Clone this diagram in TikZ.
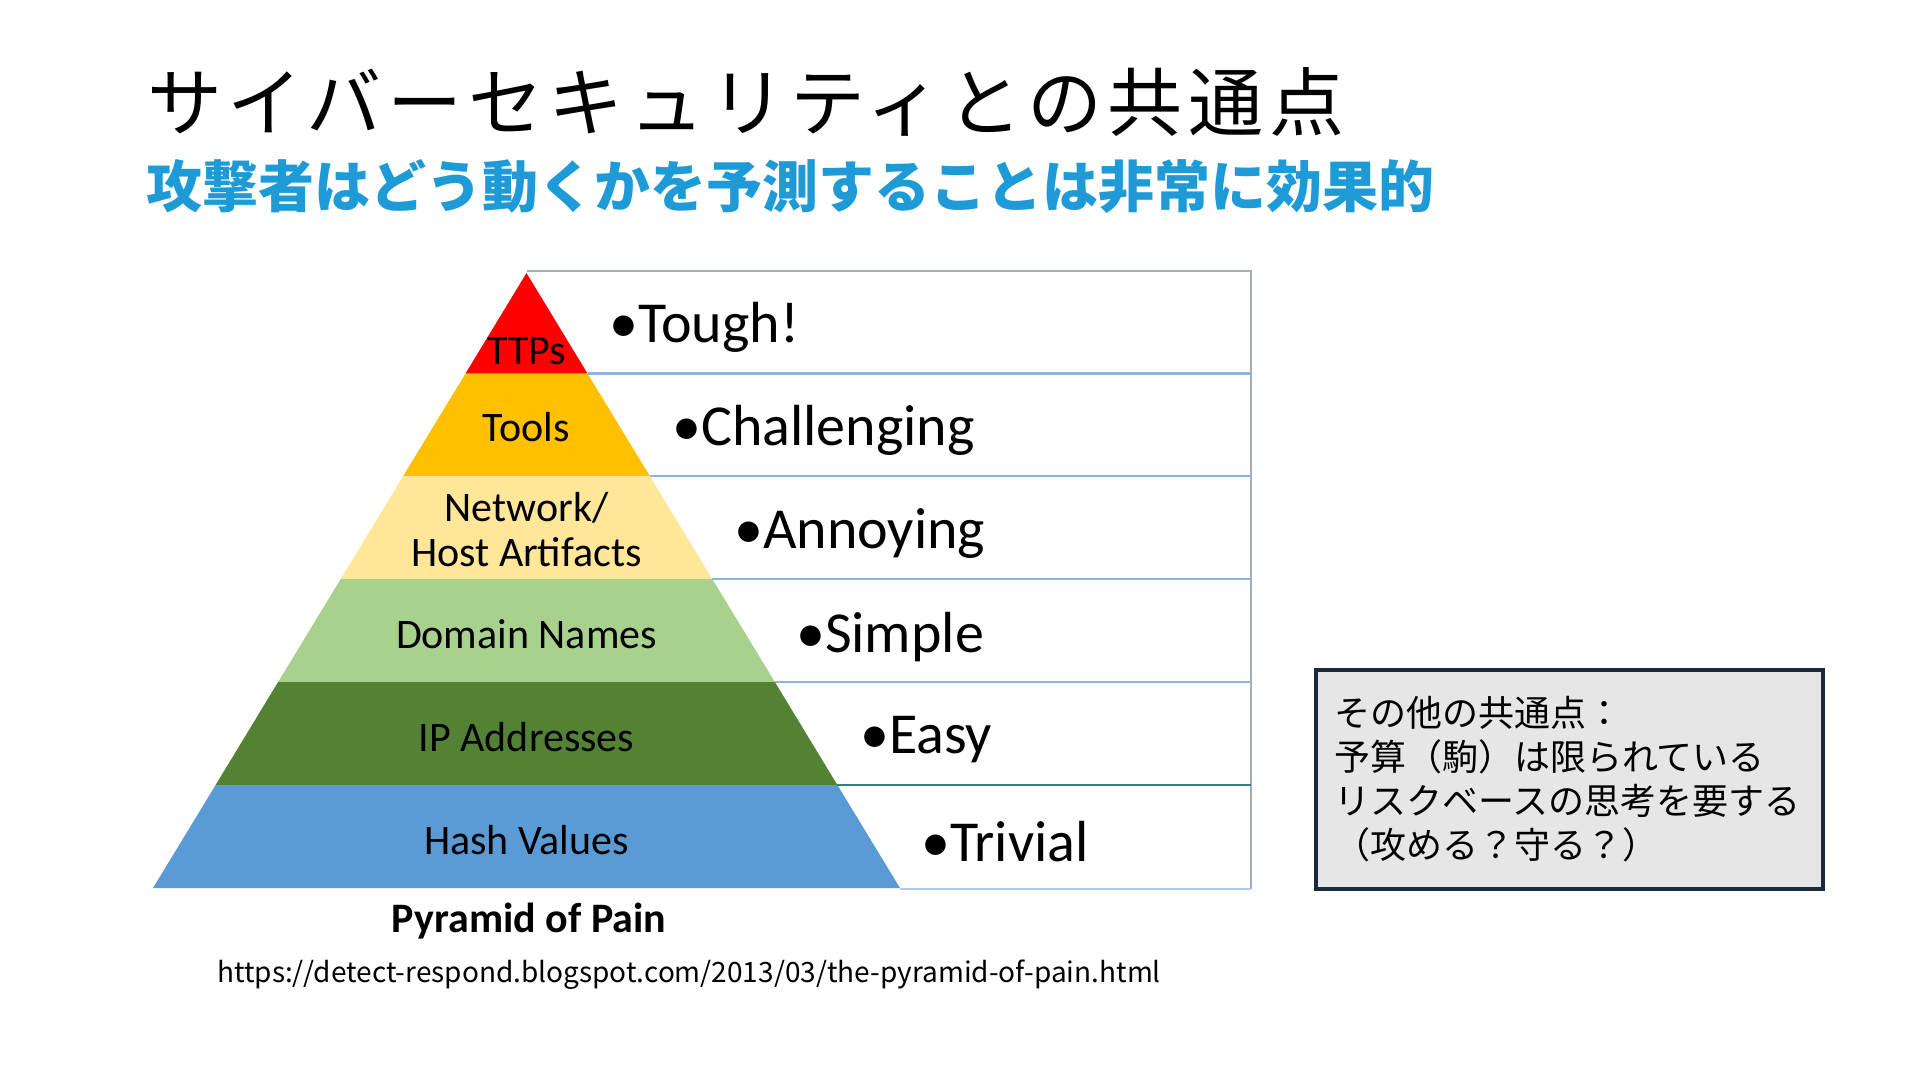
\documentclass[tikz,border=0pt]{standalone}
\usepackage{fontspec}
\setmainfont{Carlito}
\newfontfamily\jp{Noto Sans CJK JP}
\newfontfamily\jpwide[LetterSpace=7.5]{Noto Sans CJK JP}
\definecolor{ttpred}{HTML}{FF0000}
\definecolor{toolorange}{HTML}{FFC000}
\definecolor{netyellow}{HTML}{FFE699}
\definecolor{domgreen}{HTML}{A9D18E}
\definecolor{ipgreen}{HTML}{548235}
\definecolor{hashblue}{HTML}{5B9BD5}
\definecolor{subblue}{HTML}{1E9BD7}
\definecolor{sepblue}{HTML}{8DB3E2}
\definecolor{framegray}{HTML}{A6AEB6}
\definecolor{boxgray}{HTML}{E6E6E6}
\definecolor{boxline}{HTML}{1B2A3A}
\tikzset{
  lvl/.style={font=\fontsize{42}{45}\selectfont, align=center, inner sep=0pt},
  pain/.style={anchor=west, inner sep=0pt, font=\fontsize{58}{60}\selectfont},
  sep/.style={draw=sepblue, line width=2.5pt},
}
\begin{document}
\begin{tikzpicture}[x=1pt,y=-1pt]
			\useasboundingbox (0,0) rectangle (1920,1080);
			\node[anchor=west, inner sep=0pt, font=\jpwide\fontsize{75}{75}\selectfont] (title) at (147,102) {サイバーセキュリティとの共通点};
			\node[anchor=west, inner sep=0pt, text=subblue, font=\jp\bfseries\fontsize{56}{56}\selectfont] (sub) at (146,186) {攻撃者はどう動くかを予測することは非常に効果的};
			\fill[ttpred] (526.5,273) -- (587.5,373.5) -- (465.5,373.5) -- cycle;
			\fill[toolorange] (465.5,373.5) -- (587.5,373.5) -- (649.8,476) -- (403.2,476) -- cycle;
			\fill[netyellow] (403.2,476) -- (649.8,476) -- (712.3,579) -- (340.7,579) -- cycle;
			\fill[domgreen] (340.7,579) -- (712.3,579) -- (774.9,682) -- (278.1,682) -- cycle;
			\fill[ipgreen] (278.1,682) -- (774.9,682) -- (837.4,785) -- (215.6,785) -- cycle;
			\fill[hashblue] (215.6,785) -- (837.4,785) -- (900,888) -- (153,888) -- cycle;
			\draw[framegray, line width=1.2pt] (526.5,271) -- (1251,271) -- (1251,889);
			\draw[sep] (587.5,373.5) -- (1251,373.5);
			\draw[sep] (649.8,476) -- (1251,476);
			\draw[sep] (712.3,579) -- (1251,579);
			\draw[sep] (774.9,682) -- (1251,682);
			\draw[draw=teal!60!gray, line width=2pt] (837.4,785) -- (1251,785);
			\draw[draw=sepblue!70!white, line width=2pt] (900,888.5) -- (1251,888.5);
			\node[lvl] (ttps) at (526.5,351) {TTPs};
			\node[lvl] (tools) at (526.5,427) {Tools};
			\node[lvl] (artifacts) at (526.5,530) {Network/\\Host Artifacts};
			\node[lvl] (domains) at (526.5,634) {Domain Names};
			\node[lvl] (ips) at (526.5,737) {IP Addresses};
			\node[lvl] (hashes) at (526.5,840) {Hash Values};
			\node[pain] (tough) at (609,327) {•Tough!};
			\node[pain] (challenging) at (672,430) {•Challenging};
			\node[pain] (annoying) at (734,534) {•Annoying};
			\node[pain] (simple) at (796,637) {•Simple};
			\node[pain] (easy) at (860,740) {•Easy};
			\node[pain] (trivial) at (921,842) {•Trivial};
			\node[font=\bfseries\fontsize{42}{42}\selectfont] (caption) at (529,921) {Pyramid of Pain};
			\node[anchor=west, inner sep=0pt, font=\jp\fontsize{28}{28}\selectfont] (url) at (217,975) {https://detect-respond.blogspot.com/2013/03/the-pyramid-of-pain.html};
			\node[draw=boxline, fill=boxgray, line width=3.5pt, minimum width=507pt, minimum height=219pt, text width=471pt, inner xsep=18pt, align=left, font=\jp\fontsize{36}{44}\selectfont] (common) at (1569.5,779.5) {その他の共通点：\\予算（駒）は限られている\\リスクベースの思考を要する\\（攻める？守る？）};
		\end{tikzpicture}
\end{document}
